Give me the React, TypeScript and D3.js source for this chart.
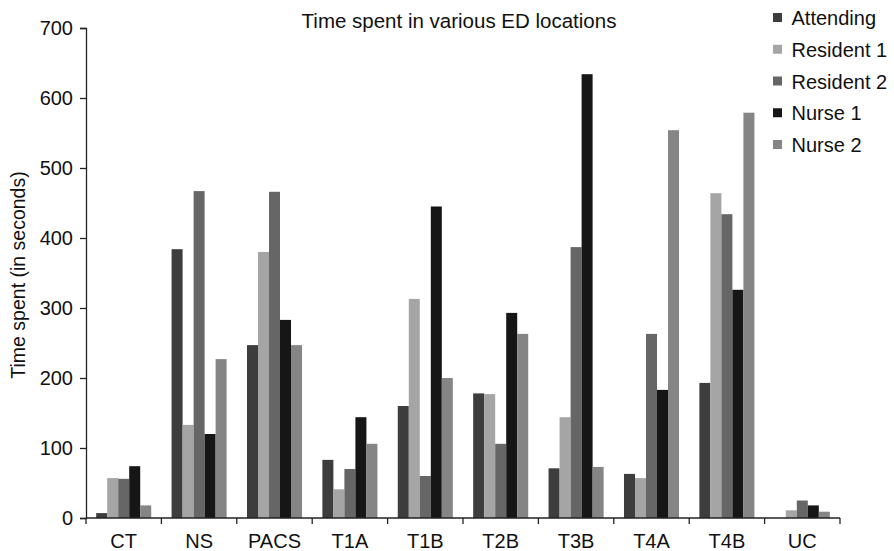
import { useRef, useEffect } from "react";
import * as d3 from "d3";

const categories = ["CT", "NS", "PACS", "T1A", "T1B", "T2B", "T3B", "T4A", "T4B", "UC"];
const seriesNames = ["Attending", "Resident 1", "Resident 2", "Nurse 1", "Nurse 2"];
const attending = [7, 384, 247, 83, 160, 178, 71, 63, 193, 0];
const resident1 = [57, 133, 380, 41, 313, 177, 144, 57, 464, 11];
const resident2 = [56, 467, 466, 70, 60, 106, 387, 263, 434, 25];
const nurse1 = [74, 120, 283, 144, 445, 293, 634, 183, 326, 18];
const nurse2 = [18, 227, 247, 106, 200, 263, 73, 554, 579, 9];
const yTicks = [0, 100, 200, 300, 400, 500, 600, 700];

const COLORS = ["#3d3d3d", "#a5a5a5", "#666666", "#161616", "#858585"];
const W = 894;
const H = 551;
const MARGIN = { top: 28, right: 54, bottom: 33, left: 86 };
const FONT = "'Liberation Sans', Arial, sans-serif";

export default function App() {
  const svgRef = useRef<SVGSVGElement>(null);

  useEffect(() => {
    if (!svgRef.current) return;
    const svg = d3.select(svgRef.current);
    svg.selectAll("*").remove();

    const innerW = W - MARGIN.left - MARGIN.right;
    const innerH = H - MARGIN.top - MARGIN.bottom;
    const g = svg.append("g").attr("transform", `translate(${MARGIN.left},${MARGIN.top})`);

    const series = [attending, resident1, resident2, nurse1, nurse2];

    const x0 = d3.scaleBand().domain(categories).range([0, innerW]).padding(0);
    const x1 = d3
      .scaleBand()
      .domain(seriesNames)
      .range([x0.bandwidth() * 0.135, x0.bandwidth() * 0.865])
      .padding(0);
    const y = d3.scaleLinear().domain([0, 700]).range([innerH, 0]);

    // Bars
    categories.forEach((cat, ci) => {
      const grp = g.append("g").attr("transform", `translate(${x0(cat)},0)`);
      seriesNames.forEach((name, si) => {
        const v = series[si][ci];
        grp
          .append("rect")
          .attr("x", x1(name)!)
          .attr("y", y(v))
          .attr("width", x1.bandwidth())
          .attr("height", innerH - y(v))
          .attr("fill", COLORS[si]);
      });
    });

    // Y axis
    const yAxis = g
      .append("g")
      .call(d3.axisLeft(y).tickValues(yTicks).tickSize(6).tickPadding(7).tickFormat(d3.format("d")));
    yAxis.select(".domain").attr("stroke", "#222").attr("stroke-width", 1.3);
    yAxis.selectAll(".tick line").attr("stroke", "#222").attr("stroke-width", 1.3);
    yAxis
      .selectAll("text")
      .attr("fill", "#111")
      .style("font-size", "20px")
      .style("font-family", FONT);

    // X axis: ticks at band boundaries
    const xAxis = g.append("g").attr("transform", `translate(0,${innerH})`);
    xAxis
      .append("line")
      .attr("x1", 0)
      .attr("x2", innerW)
      .attr("y1", 0)
      .attr("y2", 0)
      .attr("stroke", "#222")
      .attr("stroke-width", 1.3);
    const boundaries = categories.map((c) => x0(c)!).concat([innerW]);
    xAxis
      .selectAll("line.tk")
      .data(boundaries)
      .join("line")
      .attr("class", "tk")
      .attr("x1", (d) => d)
      .attr("x2", (d) => d)
      .attr("y1", 0)
      .attr("y2", 6)
      .attr("stroke", "#222")
      .attr("stroke-width", 1.3);
    xAxis
      .selectAll("text")
      .data(categories)
      .join("text")
      .attr("x", (d) => x0(d)! + x0.bandwidth() / 2)
      .attr("y", 30)
      .attr("text-anchor", "middle")
      .attr("fill", "#111")
      .style("font-size", "20px")
      .style("font-family", FONT)
      .text((d) => d);

    // Y label
    svg
      .append("text")
      .attr("transform", "rotate(-90)")
      .attr("x", -275)
      .attr("y", 25)
      .attr("text-anchor", "middle")
      .attr("fill", "#111")
      .style("font-size", "19.5px")
      .style("font-family", FONT)
      .text("Time spent (in seconds)");

    // Title
    svg
      .append("text")
      .attr("x", 459)
      .attr("y", 28)
      .attr("text-anchor", "middle")
      .attr("fill", "#111")
      .style("font-size", "20.5px")
      .style("font-family", FONT)
      .text("Time spent in various ED locations");

    // Legend
    const legend = svg.append("g").attr("transform", "translate(773,13)");
    seriesNames.forEach((name, i) => {
      const row = legend.append("g").attr("transform", `translate(0,${i * 31.75})`);
      row.append("rect").attr("width", 9).attr("height", 9).attr("fill", COLORS[i]);
      row
        .append("text")
        .attr("x", 18.5)
        .attr("y", 12)
        .attr("fill", "#111")
        .style("font-size", "20px")
        .style("font-family", FONT)
        .text(name);
    });
  }, []);

  return (
    <svg
      ref={svgRef}
      width={W}
      height={H}
      style={{ position: "absolute", left: 0, top: 0, background: "#fff" }}
    />
  );
}
